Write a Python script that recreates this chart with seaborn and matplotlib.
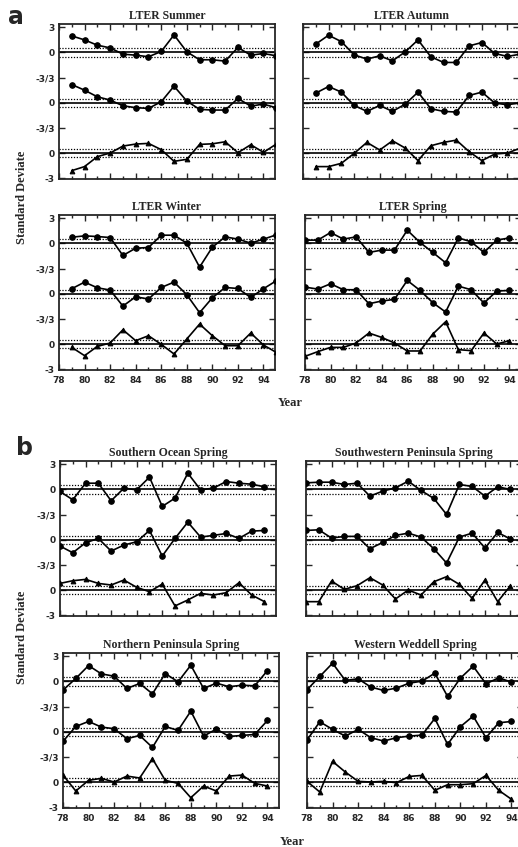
"""Stacked standard-deviate time series, LTER seasons (a) and regional spring (b)."""
import matplotlib
matplotlib.use("Agg")
import matplotlib.pyplot as plt
import numpy as np
import seaborn as sns
from matplotlib.ticker import FixedLocator, MultipleLocator

# ---- data (two-digit years) ----
years_79_95 = list(range(79, 96))
years_78_94 = list(range(78, 95))

summer_top = [1.98, 1.5, 0.87, 0.55, -0.2, -0.32, -0.51, 0.12, 2.1, 0.08, -0.87, -0.87, -1.03, 0.6, -0.32, -0.12, -0.4]
summer_mid = [2.17, 1.5, 0.71, 0.32, -0.36, -0.59, -0.67, 0.12, 1.98, 0.2, -0.79, -0.87, -0.87, 0.51, -0.4, -0.16, -0.6]
summer_bot = [-2.1, -1.62, -0.43, 0.0, 0.83, 1.07, 1.15, 0.4, -0.99, -0.75, 1.03, 1.1, 1.34, 0.04, 0.99, 0.08, 1.07]

autumn_top = [1.0, 2.06, 1.3, -0.28, -0.79, -0.4, -1.0, 0.08, 1.5, -0.51, -1.19, -1.19, 0.79, 1.19, -0.12, -0.47, -0.2]
autumn_mid = [1.15, 1.94, 1.27, -0.32, -1.03, -0.32, -1.03, -0.16, 1.27, -0.71, -1.03, -1.11, 0.87, 1.27, -0.04, -0.24, 0.0]
autumn_bot = [-1.62, -1.62, -1.23, -0.04, 1.27, 0.36, 1.46, 0.59, -0.91, 0.87, 1.27, 1.54, 0.16, -0.91, -0.12, 0.0, 0.59]

winter_top = [0.75, 0.91, 0.83, 0.71, -1.43, -0.56, -0.48, 0.99, 0.99, 0.04, -2.82, -0.44, 0.79, 0.52, 0.04, 0.52, 1.03]
winter_mid = [0.6, 1.39, 0.71, 0.44, -1.47, -0.36, -0.63, 0.75, 1.39, -0.12, -2.26, -0.48, 0.75, 0.63, -0.44, 0.6, 1.55]
winter_bot = [-0.4, -1.39, -0.28, 0.12, 1.7, 0.4, 0.99, -0.04, -1.19, 0.6, 2.38, 0.99, -0.2, -0.2, 1.31, -0.12, -1.0]

spring_top = [0.4, 0.4, 1.31, 0.52, 0.79, -1.07, -0.79, -0.79, 1.59, 0.12, -1.07, -2.3, 0.67, 0.2, -1.07, 0.4, 0.67]
spring_mid = [0.79, 0.56, 1.19, 0.48, 0.48, -1.19, -0.87, -0.67, 1.59, 0.4, -1.07, -2.18, 0.91, 0.48, -1.11, 0.32, 0.4]
spring_bot = [-1.47, -0.91, -0.4, -0.4, 0.12, 1.31, 0.79, 0.12, -0.83, -0.83, 1.19, 2.66, -0.67, -0.79, 1.31, 0.0, 0.4]

socean_top = [-0.24, -1.23, 0.75, 0.75, -1.35, 0.16, -0.04, 1.47, -2.02, -1.03, 1.94, -0.04, 0.16, 0.95, 0.75, 0.63, 0.32]
socean_mid = [-0.75, -1.55, -0.36, 0.16, -1.35, -0.63, -0.24, 1.11, -1.94, 0.16, 2.1, 0.32, 0.52, 0.75, 0.16, 1.03, 1.11]
socean_bot = [0.79, 1.11, 1.27, 0.79, 0.6, 1.19, 0.32, -0.2, 0.71, -1.9, -1.19, -0.4, -0.6, -0.32, 0.87, -0.6, -1.39]

swpen_top = [0.79, 0.87, 0.87, 0.6, 0.75, -0.79, -0.2, 0.2, 0.99, -0.12, -1.07, -2.98, 0.6, 0.36, -0.79, 0.32, 0.0]
swpen_mid = [1.11, 1.19, 0.2, 0.4, 0.4, -1.07, -0.32, 0.52, 0.79, 0.32, -1.07, -2.78, 0.32, 0.79, -0.99, 0.87, 0.08]
swpen_bot = [-1.39, -1.39, 1.07, 0.08, 0.52, 1.47, 0.6, -1.07, 0.0, -0.6, 0.99, 1.59, 0.67, -0.99, 1.19, -1.39, 0.52]

npen_top = [-1.03, 0.36, 1.9, 0.91, 0.63, -0.83, -0.24, -1.47, 0.95, -0.04, 1.94, -0.83, -0.2, -0.63, -0.44, -0.52, 1.31]
npen_mid = [-1.15, 0.63, 1.23, 0.56, 0.36, -0.83, -0.44, -1.87, 0.63, 0.16, 2.46, -0.52, 0.32, -0.56, -0.44, -0.32, 1.35]
npen_bot = [0.83, -1.07, 0.2, 0.44, 0.0, 0.71, 0.48, 2.78, 0.2, -0.16, -1.87, -0.48, -1.07, 0.71, 0.83, -0.16, -0.48]

wwed_top = [-0.99, 0.6, 2.18, 0.12, 0.32, -0.67, -1.07, -0.79, -0.2, 0.04, 0.99, -1.79, 0.4, 1.83, -0.28, 0.44, -0.08]
wwed_mid = [-0.99, 1.19, 0.28, -0.52, 0.28, -0.71, -1.11, -0.71, -0.52, -0.4, 1.59, -1.51, 0.6, 1.87, -0.71, 1.07, 1.23]
wwed_bot = [0.08, -1.19, 2.46, 1.19, 0.08, 0.0, 0.08, -0.08, 0.67, 0.79, -0.99, -0.32, -0.32, -0.2, 0.79, -0.99, -2.06]

panel_titles = ["LTER Summer", "LTER Autumn", "LTER Winter", "LTER Spring",
                "Southern Ocean Spring", "Southwestern Peninsula Spring",
                "Northern Peninsula Spring", "Western Weddell Spring"]
panel_years = [years_79_95, years_79_95, years_79_95, years_78_94,
               years_78_94, years_78_94, years_78_94, years_78_94]
panel_series = [
    (summer_top, summer_mid, summer_bot), (autumn_top, autumn_mid, autumn_bot),
    (winter_top, winter_mid, winter_bot), (spring_top, spring_mid, spring_bot),
    (socean_top, socean_mid, socean_bot), (swpen_top, swpen_mid, swpen_bot),
    (npen_top, npen_mid, npen_bot), (wwed_top, wwed_mid, wwed_bot),
]
y_tick_labels = ["-3", "0", "-3/3", "0", "-3/3", "0", "3"]
x_tick_labels = ["78", "80", "82", "84", "86", "88", "90", "92", "94"]

# ---- layout (pixels) ----
W, H = 518, 847
ROW_TOP = [24, 215, 461, 653]
LEFT_X = [59, 59, 60, 63]
RIGHT_X = [303, 305, 306, 307]
AX_W, AX_H = 216, 155
OFFSETS = [12, 6, 0]

sns.set_style("ticks")
plt.rcParams["font.family"] = ["DejaVu Sans"]
SERIF = ["Liberation Serif", "DejaVu Serif"]

fig = plt.figure(figsize=(W / 100, H / 100), dpi=100)


def px_axes(left, top):
    return fig.add_axes([left / W, 1 - (top + AX_H) / H, AX_W / W, AX_H / H])


for i, title in enumerate(panel_titles):
    row, col = divmod(i, 2)
    ax = px_axes(LEFT_X[row] if col == 0 else RIGHT_X[row], ROW_TOP[row])
    yrs = panel_years[i]
    for k, vals in enumerate(panel_series[i]):
        off = OFFSETS[k]
        ax.axhline(off, color="black", lw=1.2, zorder=1)
        for d in (0.5, -0.5):
            ax.axhline(off + d, color="black", lw=0.9, ls=(0, (1, 1.3)), zorder=1)
        mk, ms = ("^", 3.4) if k == 2 else ("o", 4.0)
        sns.lineplot(x=np.array(yrs), y=np.array(vals) + off, ax=ax,
                     color="black", lw=1.2, marker=mk, markersize=ms,
                     markeredgecolor="black", markerfacecolor="black",
                     estimator=None, zorder=3)

    ax.set_xlim(78, 94.9)
    ax.set_ylim(-3.1, 15.4)
    ax.xaxis.set_major_locator(MultipleLocator(2))
    ax.xaxis.set_minor_locator(MultipleLocator(1))
    ax.yaxis.set_major_locator(FixedLocator([-3, 0, 3, 6, 9, 12, 15]))
    ax.tick_params(which="both", direction="in", top=True, right=True,
                   width=1.0)
    ax.tick_params(which="major", length=4)
    ax.tick_params(which="minor", length=2.5)
    ax.tick_params(axis="y", which="minor", left=False, right=False)
    ax.tick_params(axis="y", pad=3)
    ax.tick_params(axis="x", pad=4)

    if col == 0:
        ax.set_yticklabels(y_tick_labels, fontsize=6.5, fontweight="bold")
    else:
        ax.set_yticklabels([])
    if row in (1, 3):
        ax.set_xticks(range(78, 95, 2))
        ax.set_xticklabels(x_tick_labels, fontsize=6.5, fontweight="bold")
    else:
        ax.set_xticklabels([])

    for sp in ax.spines.values():
        sp.set_linewidth(1.3)
    ax.set_xlabel("")
    ax.set_ylabel("")
    ax.set_title(title, fontsize=8.5, fontweight="bold", family=SERIF, pad=3.5)

# figure labels
fig.text(16 / W, 1 - 17 / H, "a", fontsize=17, fontweight="bold",
         ha="center", va="center")
fig.text(24 / W, 1 - 448 / H, "b", fontsize=17, fontweight="bold",
         ha="center", va="center")
for yc in (197, 637):
    fig.text(22 / W, 1 - yc / H, "Standard Deviate", rotation=90,
             fontsize=9, fontweight="bold", family=SERIF,
             ha="center", va="center")
for xc, yc in ((290, 403), (292, 842)):
    fig.text(xc / W, 1 - yc / H, "Year", fontsize=9, fontweight="bold",
             family=SERIF, ha="center", va="center")

fig.savefig("out.png", dpi=100)
